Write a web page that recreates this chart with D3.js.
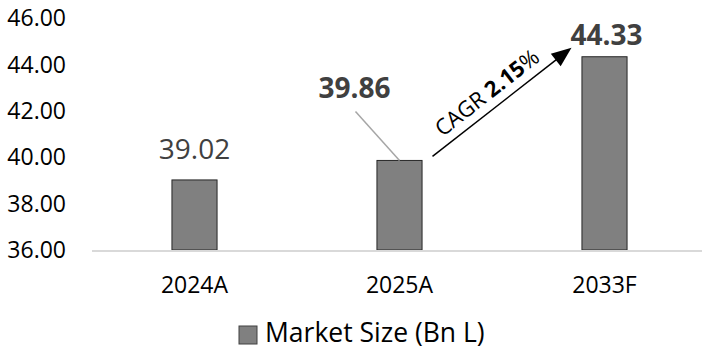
<!DOCTYPE html>
<html>
<head>
<meta charset="utf-8">
<script src="https://cdn.jsdelivr.net/npm/d3@7"></script>
<style>
  html, body { margin: 0; padding: 0; background: #fff; }
  svg { display: block; font-family: "Open Sans", sans-serif; }
</style>
</head>
<body>
<svg id="chart" width="702" height="350"></svg>
<script>
// Market size by year (Bn L)
const categories = ["2024A", "2025A", "2033F"];
const values = [39.02, 39.86, 44.33];
const valueLabels = ["39.02", "39.86", "44.33"];
const yTicks = [36, 38, 40, 42, 44, 46];
const seriesName = "Market Size (Bn L)";
const cagrLabel = { prefix: "CAGR ", rate: "2.15", suffix: "%" };

const svg = d3.select("#chart");
const W = 702;

const x = d3.scaleBand()
  .domain(categories)
  .range([92, 707])
  .paddingInner(0.78)
  .paddingOuter(0.39);

const y = d3.scaleLinear().domain([36, 46]).range([250, 18]);

// y tick labels (no axis line, no ticks)
svg.append("g")
  .selectAll("text")
  .data(yTicks)
  .join("text")
  .attr("x", 66)
  .attr("y", d => y(d))
  .attr("dy", "0.36em")
  .attr("text-anchor", "end")
  .attr("font-size", 23)
  .attr("fill", "#000")
  .text(d => d.toFixed(2));

// bars
svg.append("g")
  .selectAll("rect")
  .data(values)
  .join("rect")
  .attr("x", (d, i) => x(categories[i]))
  .attr("width", x.bandwidth())
  .attr("y", d => y(d))
  .attr("height", d => y(36) - y(d))
  .attr("fill", "#808080")
  .attr("stroke", "#262626")
  .attr("stroke-width", 1);

// category axis line and labels
svg.append("line")
  .attr("x1", 92).attr("x2", W)
  .attr("y1", y(36) + 1).attr("y2", y(36) + 1)
  .attr("stroke", "#d9d9d9")
  .attr("stroke-width", 2);

svg.append("g")
  .selectAll("text")
  .data(categories)
  .join("text")
  .attr("x", d => x(d) + x.bandwidth() / 2)
  .attr("y", 293)
  .attr("text-anchor", "middle")
  .attr("font-size", 23)
  .attr("fill", "#000")
  .text(d => d);

// value labels: [dx, dy from bar top, bold]
const labelLayout = [[0, -21, false], [-45, -62, true], [2, -12, true]];
svg.append("g")
  .selectAll("text")
  .data(values)
  .join("text")
  .attr("x", (d, i) => x(categories[i]) + x.bandwidth() / 2 + labelLayout[i][0])
  .attr("y", (d, i) => y(d) + labelLayout[i][1])
  .attr("text-anchor", "middle")
  .attr("font-size", 28)
  .attr("font-weight", (d, i) => labelLayout[i][2] ? 700 : 400)
  .attr("fill", "#404040")
  .text((d, i) => valueLabels[i]);

// leader line from the 2025A label down to its bar
const c2 = x(categories[1]) + x.bandwidth() / 2;
svg.append("line")
  .attr("x1", c2 - 44).attr("y1", y(values[1]) - 49)
  .attr("x2", c2).attr("y2", y(values[1]))
  .attr("stroke", "#a6a6a6")
  .attr("stroke-width", 1.5);

// CAGR arrow between 2025A and 2033F
const c3 = x(categories[2]) + x.bandwidth() / 2;
const p0 = [c2 + 33, y(values[1]) - 4];
const p1 = [c3 - 33, y(values[2]) - 9];
const ang = Math.atan2(p1[1] - p0[1], p1[0] - p0[0]);
const len = Math.hypot(p1[0] - p0[0], p1[1] - p0[1]);
const headLen = 20, headHalf = 8;

const arrow = svg.append("g")
  .attr("transform", `translate(${p0[0]},${p0[1]}) rotate(${ang * 180 / Math.PI})`);
arrow.append("line")
  .attr("x1", 0).attr("y1", 0)
  .attr("x2", len - headLen + 2).attr("y2", 0)
  .attr("stroke", "#000")
  .attr("stroke-width", 1.5);
arrow.append("path")
  .attr("d", `M${len},0 L${len - headLen},${-headHalf} L${len - headLen},${headHalf} Z`)
  .attr("fill", "#000");

const t = arrow.append("text")
  .attr("x", len / 2 - 6)
  .attr("y", -9)
  .attr("text-anchor", "middle")
  .attr("font-size", 22)
  .attr("fill", "#000");
t.append("tspan").text(cagrLabel.prefix);
t.append("tspan").attr("font-weight", 700).text(cagrLabel.rate);
t.append("tspan").text(cagrLabel.suffix);

// legend
const legend = svg.append("g").attr("transform", "translate(239,326)");
legend.append("rect")
  .attr("width", 18).attr("height", 18)
  .attr("fill", "#808080")
  .attr("stroke", "#404040")
  .attr("stroke-width", 1);
legend.append("text")
  .attr("x", 26)
  .attr("y", 16)
  .attr("font-size", 26.5)
  .attr("fill", "#000")
  .text(seriesName);
</script>
</body>
</html>
